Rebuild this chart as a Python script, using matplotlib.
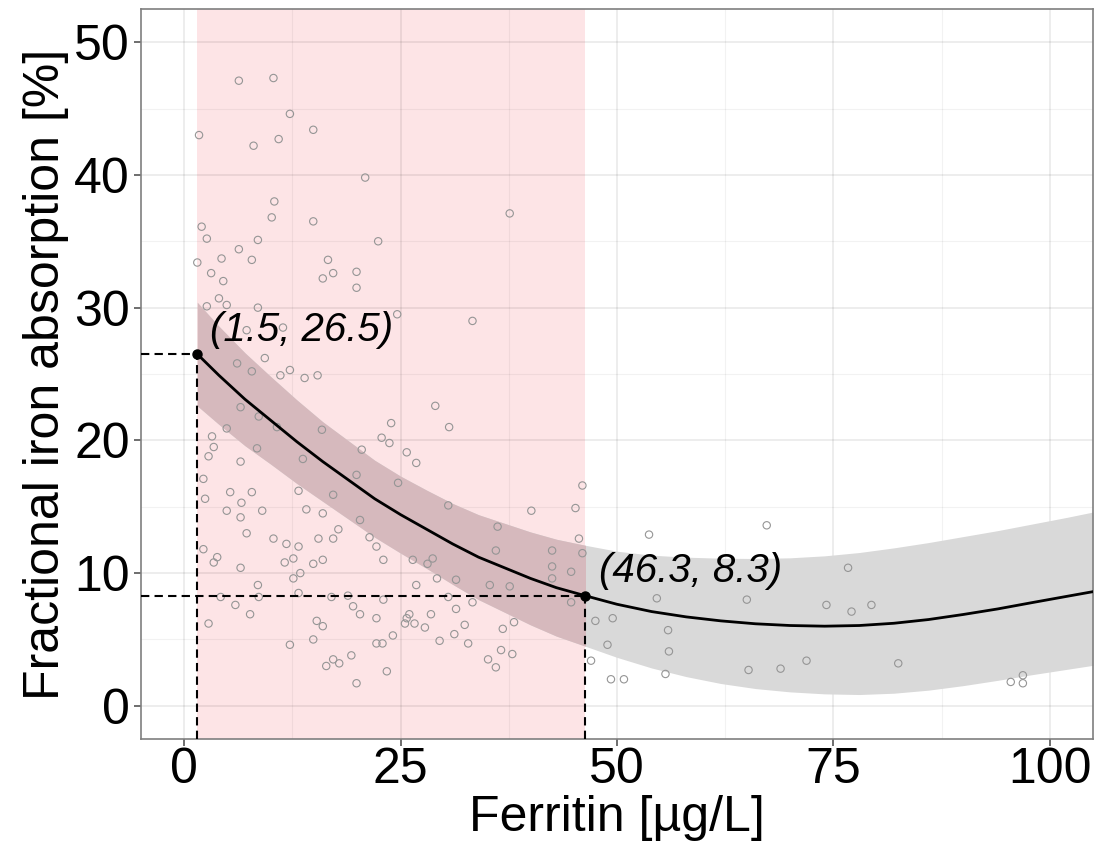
import matplotlib

matplotlib.use("Agg")
import matplotlib.pyplot as plt
from matplotlib.ticker import MultipleLocator

plt.rcParams["font.family"] = ["Liberation Sans", "DejaVu Sans"]

# observations (ferritin ug/L, fractional absorption %)
FER_X = [
    6.3, 10.3, 12.2, 14.9, 1.7, 8.0, 10.9, 20.9, 10.4, 10.1, 14.9, 2.0, 2.6, 8.5, 22.4,
    6.3, 4.3, 1.5, 7.8, 16.6, 17.2, 16.0, 19.9, 19.9, 3.1, 4.5, 4.0, 4.9, 2.6, 8.5,
    24.6, 37.6, 33.3,
    7.2, 11.4, 6.1, 9.3, 7.8, 12.2, 11.1, 13.9, 15.4, 6.5, 8.6, 4.9, 10.7, 15.9, 23.9,
    3.2, 3.4, 2.8, 8.4, 22.8, 23.7, 25.7, 20.5, 6.5, 13.7, 2.2, 19.9, 24.7, 5.3, 7.8,
    13.2, 17.2, 2.4, 4.9, 9.0, 6.6, 14.1, 16.0,
    6.5, 7.2, 10.3, 11.8, 13.2, 15.5, 17.2, 17.8, 2.2, 3.8, 3.4, 6.5, 12.6, 11.6, 14.9,
    16.0, 13.4, 12.6, 8.5, 4.2, 8.6, 13.2, 17.0, 18.9, 23.0, 5.9, 19.5, 20.3, 7.6, 22.2,
    25.7, 2.8, 15.3, 16.0, 24.1, 14.9, 12.2, 22.2, 22.9, 19.3, 17.2, 16.4, 17.9, 23.4, 19.9,
    20.3, 21.4, 22.2, 23.0, 26.4,
    29.0, 30.6, 26.8, 30.5, 40.1, 46.0, 45.2, 45.6, 46.0, 36.2, 36.0, 42.5, 42.5, 44.7,
    28.7, 28.1, 29.2, 31.4, 26.8, 35.3, 37.6, 42.5, 30.5, 33.3, 44.7, 31.4, 26.0, 28.5,
    25.5, 26.6, 27.8, 32.4, 36.8, 38.1, 29.5, 31.2, 32.8, 36.6, 37.9, 35.1, 36.0, 47.0,
    53.7, 67.3, 54.6, 65.0, 76.7, 74.2, 77.1, 79.4, 47.5, 49.5, 48.9, 55.9, 56.0, 49.3,
    50.8, 55.6, 65.2, 68.9, 71.9, 82.5, 95.5, 96.9, 96.9,
]
ABS_Y = [
    47.1, 47.3, 44.6, 43.4, 43.0, 42.2, 42.7, 39.8, 38.0, 36.8, 36.5, 36.1, 35.2, 35.1, 35.0,
    34.4, 33.7, 33.4, 33.6, 33.6, 32.6, 32.2, 32.7, 31.5, 32.6, 32.0, 30.7, 30.2, 30.1, 30.0,
    29.5, 37.1, 29.0,
    28.3, 28.5, 25.8, 26.2, 25.2, 25.3, 24.9, 24.7, 24.9, 22.5, 21.8, 20.9, 21.0, 20.8, 21.3,
    20.3, 19.5, 18.8, 19.4, 20.2, 19.8, 19.1, 19.3, 18.4, 18.6, 17.1, 17.4, 16.8, 16.1, 16.1,
    16.2, 15.9, 15.6, 14.7, 14.7, 15.3, 14.8, 14.5,
    14.2, 13.0, 12.6, 12.2, 12.0, 12.6, 12.6, 13.3, 11.8, 11.2, 10.8, 10.4, 11.1, 10.8, 10.7,
    11.0, 10.0, 9.6, 9.1, 8.2, 8.2, 8.5, 8.2, 8.3, 8.0, 7.6, 7.5, 6.9, 6.9, 6.6,
    6.6, 6.2, 6.4, 6.0, 5.3, 5.0, 4.6, 4.7, 4.7, 3.8, 3.5, 3.0, 3.2, 2.6, 1.7,
    14.0, 12.7, 12.0, 11.0, 11.0,
    22.6, 21.0, 18.3, 15.1, 14.7, 16.6, 14.9, 12.6, 11.5, 13.5, 11.7, 11.7, 10.5, 10.1,
    11.1, 10.7, 9.6, 9.5, 9.1, 9.1, 9.0, 9.6, 8.2, 7.8, 7.8, 7.3, 6.9, 6.9,
    6.2, 6.2, 5.9, 6.1, 5.8, 6.3, 4.9, 5.4, 4.7, 4.2, 3.9, 3.5, 2.9, 3.4,
    12.9, 13.6, 8.1, 8.0, 10.4, 7.6, 7.1, 7.6, 6.4, 6.6, 4.6, 5.7, 4.1, 2.0,
    2.0, 2.4, 2.7, 2.8, 3.4, 3.2, 1.8, 2.3, 1.7,
]

# fitted curve and its confidence band
FIT_X = [1.5, 4, 7, 10, 13, 16, 19, 22, 25, 28, 31, 34, 37, 40, 43, 46.3,
         50, 54, 58, 62, 66, 70, 74, 78, 82, 86, 90, 94, 98, 102, 105]
FIT_Y = [26.5, 24.9, 23.1, 21.5, 19.9, 18.4, 17.0, 15.6, 14.4, 13.3, 12.2, 11.2, 10.4, 9.6, 8.9, 8.3,
         7.65, 7.1, 6.7, 6.4, 6.18, 6.05, 6.0, 6.05, 6.22, 6.5, 6.88, 7.3, 7.78, 8.25, 8.6]
BAND_HI = [30.4, 28.6, 26.6, 24.8, 23.05, 21.4, 19.95, 18.5, 17.3, 16.25, 15.25, 14.4, 13.75, 13.1, 12.55, 12.1,
           11.65, 11.35, 11.2, 11.12, 11.1, 11.15, 11.3, 11.55, 11.9, 12.3, 12.75, 13.2, 13.7, 14.2, 14.6]
BAND_LO = [22.6, 21.2, 19.6, 18.2, 16.75, 15.4, 14.05, 12.7, 11.5, 10.35, 9.15, 8.0, 7.05, 6.1, 5.25, 4.5,
           3.65, 2.85, 2.2, 1.68, 1.3, 1.05, 0.9, 0.85, 0.95, 1.18, 1.52, 1.92, 2.35, 2.75, 3.05]

# marked points on the curve
KEY_X = [1.5, 46.3]
KEY_Y = [26.5, 8.3]
KEY_LABELS = ["(1.5, 26.5)", "(46.3, 8.3)"]

X_TICKS = [0, 25, 50, 75, 100]
Y_TICKS = [0, 10, 20, 30, 40, 50]

PINK = "#fde4e6"
BAND_GREY = "#d9d9d9"
BAND_MAUVE = "#d6b9bd"
POINT_EDGE = "#959595"


def main() -> None:
    fig = plt.figure(figsize=(11.02, 8.58), dpi=100)
    ax = fig.add_axes([0.128, 0.1387, 0.8638, 0.8508])
    ax.set_xlim(-5, 105)
    ax.set_ylim(-2.5, 52.5)

    # shaded ferritin window
    span = ax.axvspan(KEY_X[0], KEY_X[1], color=PINK, lw=0, zorder=0.3)

    ax.fill_between(FIT_X, BAND_LO, BAND_HI, color=BAND_GREY, lw=0, zorder=1)
    mauve = ax.fill_between(FIT_X, BAND_LO, BAND_HI, color=BAND_MAUVE, lw=0, zorder=1.1)
    mauve.set_clip_path(span)

    ax.scatter(FER_X, ABS_Y, s=28, facecolors="none", edgecolors=POINT_EDGE,
               linewidths=0.8, zorder=2)

    for kx, ky in zip(KEY_X, KEY_Y):
        ax.plot([-5, kx], [ky, ky], color="black", lw=1.5, ls=(0, (4, 2.5)), zorder=3)
        ax.plot([kx, kx], [-2.5, ky], color="black", lw=1.5, ls=(0, (4, 2.5)), zorder=3)

    ax.plot(FIT_X, FIT_Y, color="black", lw=2.0, zorder=4, solid_joinstyle="round")
    ax.plot(KEY_X, KEY_Y, "o", color="black", ms=6.5, zorder=5)

    ax.text(KEY_X[0] + 1.5, KEY_Y[0] + 1.0, KEY_LABELS[0], fontsize=29,
            fontstyle="italic", ha="left", va="baseline", zorder=6)
    ax.text(KEY_X[1] + 1.6, KEY_Y[1] + 1.0, KEY_LABELS[1], fontsize=29,
            fontstyle="italic", ha="left", va="baseline", zorder=6)

    ax.set_xticks(X_TICKS)
    ax.set_yticks(Y_TICKS)
    ax.xaxis.set_minor_locator(MultipleLocator(12.5))
    ax.yaxis.set_minor_locator(MultipleLocator(5))
    ax.set_axisbelow(True)
    ax.grid(which="major", color="black", alpha=0.09, lw=1.1)
    ax.grid(which="minor", color="black", alpha=0.05, lw=0.8)
    ax.tick_params(which="minor", length=0)
    ax.tick_params(which="major", labelsize=36, length=5, width=1.2, color="#555555",
                   labelcolor="black")
    ax.tick_params(axis="x", pad=1)
    ax.tick_params(axis="y", pad=3)
    for sp in ax.spines.values():
        sp.set_color("#7f7f7f")
        sp.set_linewidth(1.2)

    ax.set_xlabel("Ferritin [µg/L]", fontsize=36, labelpad=1)
    ax.set_ylabel("Fractional iron absorption [%]", fontsize=36, labelpad=4)

    fig.savefig("out.png", dpi=100, facecolor="white")
    plt.close(fig)


if __name__ == "__main__":
    main()
